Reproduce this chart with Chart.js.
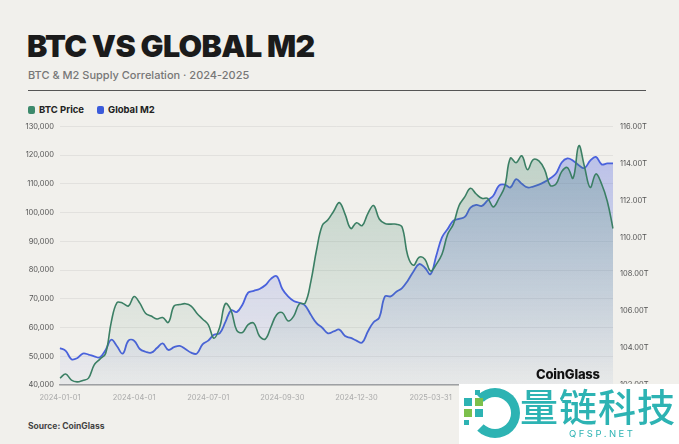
<!DOCTYPE html>
<html><head><meta charset="utf-8">
<script src="https://cdn.jsdelivr.net/npm/chart.js@4.4.1/dist/chart.umd.min.js"></script>
<style>
html,body{margin:0;padding:0;background:#f1f0ec;}
body{width:679px;height:444px;position:relative;overflow:hidden;font-family:Inter,"Noto Sans",sans-serif;}
.abs{position:absolute;white-space:nowrap;}
#title{left:27px;top:26px;font-size:30.5px;font-weight:900;letter-spacing:-0.65px;color:#1b1b1b;line-height:40px;}
#sub{left:28px;top:67px;font-size:11px;font-weight:500;color:#777;line-height:16px;}
#rule{left:28px;top:90px;width:618px;height:0;border-top:1.5px solid #555;}
.lg{top:104px;font-size:9.5px;font-weight:700;color:#222;line-height:12px;}
.sw{top:106px;width:7px;height:8px;border-radius:2px;}
#src{left:28px;top:420px;font-size:8.5px;font-weight:700;color:#444;line-height:12px;}
#cg{left:536px;top:366px;font-size:13px;font-weight:800;color:#111;line-height:16px;letter-spacing:-0.2px;}
#wm{left:459px;top:384px;width:220px;height:60px;background:#fff;}
#wmt{left:520px;top:382px;font-family:"Noto Sans CJK SC",sans-serif;font-size:38px;font-weight:500;color:#2db3b3;line-height:46px;letter-spacing:1px;}
#wmu{left:569px;top:428px;font-size:9.5px;color:#2db3b3;letter-spacing:2.5px;line-height:12px;}
#arc{left:470px;top:388px;width:32px;height:32px;border:9px solid #2db3b3;border-left-color:transparent;border-radius:50%;}
.sq{width:8px;height:8px;}
</style></head>
<body>
<div id="title" class="abs">BTC VS GLOBAL M2</div>
<div id="sub" class="abs">BTC &amp; M2 Supply Correlation · 2024-2025</div>
<div id="rule" class="abs"></div>
<div class="abs sw" style="left:28px;background:#3d8a6c"></div>
<div class="abs lg" style="left:39px">BTC Price</div>
<div class="abs sw" style="left:97px;background:#3b5bdb"></div>
<div class="abs lg" style="left:108px">Global M2</div>
<div class="abs" style="left:0;top:115px;"><canvas id="c" width="679" height="296"></canvas></div>
<div id="cg" class="abs">CoinGlass</div>
<div id="src" class="abs">Source: CoinGlass</div>
<div id="wm" class="abs"></div>
<div id="arc" class="abs"></div>
<div class="abs sq" style="left:464px;top:398px;background:#2db3b3"></div>
<div class="abs sq" style="left:475px;top:398px;background:#7cc04b"></div>
<div class="abs sq" style="left:464px;top:409px;background:#7cc04b"></div>
<div class="abs sq" style="left:475px;top:409px;background:#2db3b3"></div>
<div class="abs sq" style="left:464px;top:420px;width:5px;height:5px;background:#2db3b3"></div>
<div class="abs sq" style="left:475px;top:390px;width:5px;height:5px;background:#2db3b3"></div>
<div id="wmt" class="abs">量链科技</div>
<div id="wmu" class="abs">QFSP.NET</div>
<script>
// weekly observations starting 2024-01-01
const startDate = '2024-01-01';
const btcPrice = [42400,43800,41700,41100,41600,42400,47000,49000,51000,62000,
68700,68500,67500,70800,68500,65000,64000,63000,63500,61800,
67500,68000,68300,67500,65000,63000,61000,56300,60000,68300,
66000,59000,58300,61000,61500,57000,56000,60200,64500,65200,
62300,64000,68300,68500,76000,87000,95500,97500,100500,103500,
99500,94500,96500,95500,99700,102500,97800,96200,96000,96000,
95000,85000,81700,84500,83800,79700,82000,85500,92500,96000,
102500,105500,108500,106500,105000,105000,102000,105000,109000,119000,
117400,119800,115000,118500,118000,115000,109500,110000,114300,115700,
112000,123300,116000,108800,113500,110000,104000,94500];
const globalM2 = [104.0,103.85,103.4,103.45,103.7,103.65,103.55,103.5,103.9,104.45,
104.1,103.7,104.4,104.4,103.95,103.8,103.75,104.0,104.25,103.9,
104.05,104.12,103.95,103.75,103.7,104.2,104.4,104.72,104.8,105.4,
106.05,105.95,106.35,107.0,107.1,107.2,107.4,107.75,107.9,107.2,
106.8,106.55,106.45,106.3,105.8,105.35,105.1,104.8,104.9,105.0,
104.65,104.55,104.4,104.3,104.9,105.4,105.65,106.8,106.8,107.05,
107.25,107.65,108.15,108.55,108.35,108.0,109.0,110.0,110.45,110.9,
111.0,111.1,111.6,111.75,111.7,112.0,112.25,112.8,112.85,112.7,
113.15,112.9,112.7,112.75,112.85,113.0,113.2,113.45,114.05,114.27,
114.15,113.9,113.75,114.15,114.35,113.95,114.0,114.0];
const tickLabels = ['2024-01-01','2024-04-01','2024-07-01','2024-09-30','2024-12-30','2025-03-31','2025-06-30','2025-09-29'];
const categories = btcPrice.map((_, i) => {
  const d = new Date(Date.UTC(2024, 0, 1 + 7 * i));
  return d.toISOString().slice(0, 10);
});

function grad(ctx, top, bottom) {
  const ca = ctx.chart.chartArea;
  if (!ca) return top;
  const g = ctx.chart.ctx.createLinearGradient(0, ca.top, 0, ca.bottom);
  g.addColorStop(0, top);
  g.addColorStop(1, bottom);
  return g;
}
const tickFont = {family: 'Inter', size: 7.5};

new Chart(document.getElementById('c'), {
  type: 'line',
  data: {
    labels: categories,
    datasets: [
      {label: 'BTC Price', data: btcPrice, yAxisID: 'y', borderColor: '#3b7f64', borderWidth: 1.6,
       pointRadius: 0, tension: 0.4, fill: 'start', order: 1,
       backgroundColor: c => grad(c, 'rgba(59,127,100,0.30)', 'rgba(59,127,100,0.02)')},
      {label: 'Global M2', data: globalM2, yAxisID: 'y1', borderColor: '#4a62dc', borderWidth: 1.8,
       pointRadius: 0, tension: 0.4, fill: 'start', order: 2,
       backgroundColor: c => grad(c, 'rgba(74,95,224,0.36)', 'rgba(74,95,224,0.03)')}
    ]
  },
  options: {
    responsive: false, animation: false, devicePixelRatio: 1,
    layout: {padding: {top: 5, left: 0, right: 0, bottom: 0}},
    plugins: {legend: {display: false}, tooltip: {enabled: false}},
    scales: {
      x: {
        grid: {display: false},
        border: {display: true, color: '#a3a3a3', width: 1.5},
        ticks: {autoSkip: false, maxRotation: 0, minRotation: 0, padding: 0, color: '#aaa', font: tickFont,
          callback: function(v, i) { const l = categories[i]; return tickLabels.includes(l) ? l : ''; }},
        afterFit: s => { s.height = 26; }
      },
      y: {
        position: 'left', min: 40000, max: 130000,
        grid: {color: 'rgba(0,0,0,0.06)', drawTicks: false},
        border: {display: false},
        ticks: {stepSize: 10000, padding: 6, color: '#555', font: tickFont,
          callback: v => v.toLocaleString('en-US')},
        afterFit: s => { s.width = 60; }
      },
      y1: {
        position: 'right', min: 102, max: 116,
        grid: {display: false, drawTicks: false},
        border: {display: false},
        ticks: {stepSize: 2, padding: 7, color: '#555', font: tickFont,
          callback: v => v.toFixed(2) + 'T'},
        afterFit: s => { s.width = 66; }
      }
    }
  }
});
</script>
</body></html>
